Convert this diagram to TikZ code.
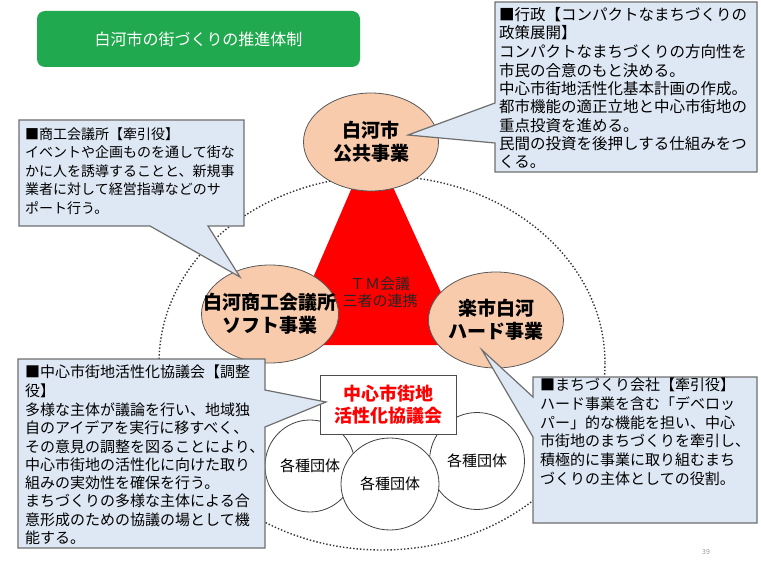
\documentclass[tikz,border=0pt]{standalone}
\usepackage{fontspec}
\usetikzlibrary{shapes.geometric}
\setmainfont{Noto Sans CJK JP}
\newfontfamily\jp{Noto Sans CJK JP}
\definecolor{peach}{HTML}{F8CBAD}
\definecolor{callbg}{HTML}{DEE8F4}
\definecolor{callbd}{HTML}{6E6E6E}
\definecolor{grn}{HTML}{21A94F}
\definecolor{redfill}{HTML}{FF0000}
\tikzset{
 callout/.style={fill=callbg,draw=callbd,line width=1.2pt,line join=miter},
 ctext/.style={anchor=north west,align=left,inner sep=0pt,font=\jp\fontsize{14.5}{18.3}\selectfont},
 actor/.style={fill=peach,draw=black!65,line width=0.8pt},
 group/.style={fill=white,draw=black!75,line width=0.8pt},
}
\begin{document}
\begin{tikzpicture}[x=1pt,y=-1pt]
\useasboundingbox (0,0) rectangle (761,567);
% title
\node[fill=grn,rounded corners=8pt,minimum width=323pt,minimum height=56pt,text=white,font=\jp\fontsize{16}{18}\selectfont] (title) at (198.5,39) {白河市の街づくりの推進体制};
% dotted area
\draw[dotted,line width=1.4pt,black!80] (382,363) ellipse [x radius=223, y radius=187];
% triangle
\fill[redfill] (372,141) -- (284,345) -- (465,345) -- cycle;
\node[font=\jp\fontsize{15}{17}\selectfont,align=center,text=black!85] (tm) at (380,292) {ＴＭ会議\\三者の連携};
% actors
\node[actor,ellipse,minimum width=135pt,minimum height=98pt,inner sep=0pt] (city) at (371,142) {};
\node[font=\jp\bfseries\fontsize{19}{23}\selectfont,align=center] at (city) {白河市\\公共事業};
\node[actor,ellipse,minimum width=137pt,minimum height=98pt,inner sep=0pt] (cci) at (270,314) {};
\node[font=\jp\bfseries\fontsize{19}{23}\selectfont,align=center] at (cci) {白河商工会議所\\ソフト事業};
\node[actor,ellipse,minimum width=135pt,minimum height=96pt,inner sep=0pt] (raku) at (496,320) {};
\node[font=\jp\bfseries\fontsize{19}{23}\selectfont,align=center] at (raku) {楽市白河\\ハード事業};
% groups
\node[group,ellipse,minimum width=90pt,minimum height=92pt,inner sep=0pt,font=\jp\fontsize{15}{17}\selectfont] (g1) at (310,466) {各種団体};
\node[group,ellipse,minimum width=95pt,minimum height=97pt,inner sep=0pt,font=\jp\fontsize{15}{17}\selectfont] (g3) at (477,461) {各種団体};
\node[group,ellipse,minimum width=98pt,minimum height=92pt,inner sep=0pt,font=\jp\fontsize{15}{17}\selectfont] (g2) at (390,484) {各種団体};
% council box
\node[draw=black!70,line width=1pt,fill=white,minimum width=136pt,minimum height=59pt,text=red,font=\jp\bfseries\fontsize{18}{22}\selectfont,align=center] (council) at (388,405) {中心市街地\\活性化協議会};
% callouts
\draw[callout] (495,2) -- (757,2) -- (757,172) -- (495,172) -- (495,143) -- (408,135) -- (495,103) -- cycle;
\node[ctext,font=\jp\fontsize{15.5}{18.3}\selectfont] (gov) at (499,7) {■行政【コンパクトなまちづくりの\\政策展開】\\[1pt]コンパクトなまちづくりの方向性を\\市民の合意のもと決める。\\中心市街地活性化基本計画の作成。\\都市機能の適正立地と中心市街地の\\重点投資を進める。\\民間の投資を後押しする仕組みをつ\\くる。};
\draw[callout] (19,120) -- (244,120) -- (244,226) -- (208,226) -- (240,277) -- (150,226) -- (19,226) -- cycle;
\node[ctext,font=\jp\fontsize{14}{18.5}\selectfont] (ccit) at (25,127) {■商工会議所【牽引役】\\イベントや企画ものを通して街な\\かに人を誘導することと、新規事\\業者に対して経営指導などのサ\\ポート行う。};
\draw[callout] (18,359) -- (265,359) -- (265,390) -- (326,402) -- (265,427) -- (265,548) -- (18,548) -- cycle;
\node[ctext,font=\jp\fontsize{15}{18.3}\selectfont] (cct) at (25,365) {■中心市街地活性化協議会【調整\\役】\\[1pt]多様な主体が議論を行い、地域独\\自のアイデアを実行に移すべく、\\その意見の調整を図ることにより、\\中心市街地の活性化に向けた取り\\組みの実効性を確保を行う。\\まちづくりの多様な主体による合\\意形成のための協議の場として機\\能する。};
\draw[callout] (533,377) -- (757,377) -- (757,523) -- (533,523) -- (533,437) -- (482,350) -- (533,397) -- cycle;
\node[ctext,font=\jp\fontsize{15}{18.7}\selectfont] (mct) at (540,378) {■まちづくり会社【牽引役】\\ハード事業を含む「デベロッ\\パー」的な機能を担い、中心\\市街地のまちづくりを牽引し、\\積極的に事業に取り組むまち\\づくりの主体としての役割。};
\node[text=black!40,font=\jp\fontsize{7}{8}\selectfont] (pg) at (706,552) {39};
\end{tikzpicture}
\end{document}
